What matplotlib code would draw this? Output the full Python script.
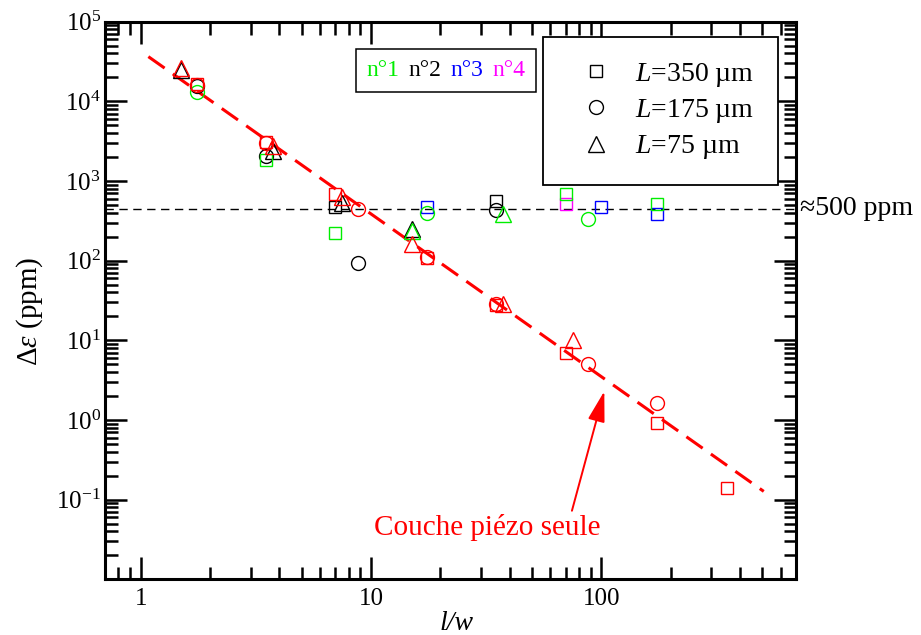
import numpy as np
import matplotlib.pyplot as plt
from matplotlib.lines import Line2D
from matplotlib.ticker import LogLocator, FuncFormatter, NullFormatter

plt.rcParams['font.family'] = ['Liberation Serif', 'DejaVu Serif']
plt.rcParams['mathtext.fontset'] = 'custom'
plt.rcParams['mathtext.rm'] = 'Liberation Serif'
plt.rcParams['mathtext.it'] = 'Liberation Serif:italic'

# echantillon n°2 (noir)
n2_sq_x = [7, 35]
n2_sq_y = [467, 562]
n2_ci_x = [1.75, 3.5, 8.75, 35]
n2_ci_y = [15500, 2050, 92.5, 430]
n2_tr_x = [1.5, 3.75, 7.5, 15]
n2_tr_y = [24500, 2370, 535, 249]

# echantillon n°1 (vert)
n1_sq_x = [3.5, 7, 70, 175]
n1_sq_y = [1860, 222, 681, 511]
n1_ci_x = [1.75, 17.5, 87.5]
n1_ci_y = [13300, 395, 331]
n1_tr_x = [15, 37.5]
n1_tr_y = [237, 383]

# echantillon n°3 (bleu)
n3_sq_x = [17.5, 100, 175]
n3_sq_y = [477, 477, 390]

# echantillon n°4 (magenta)
n4_sq_x = [70]
n4_sq_y = [520]

# couche piezo seule (rouge)
pz_sq_x = [1.75, 3.5, 7, 17.5, 35, 70, 175, 350]
pz_sq_y = [16400, 3100, 695, 108, 28.2, 6.94, 0.91, 0.14]
pz_ci_x = [1.75, 3.5, 8.75, 17.5, 35, 87.5, 175]
pz_ci_y = [16000, 3010, 443, 112, 28.7, 5.1, 1.65]
pz_tr_x = [1.5, 3.75, 7.5, 15, 37.5, 75]
pz_tr_y = [26000, 2740, 633, 162, 28.7, 10.0]

# droite de tendance (extremites)
fit_x = [1.08, 507]
fit_y = [36500, 0.127]
plateau = 450

sample_labels = ['n°1', 'n°2', 'n°3', 'n°4']
sample_colors = ['#00ee00', 'black', '#0000ff', '#ff00ff']
length_labels = ['$L$=350 µm', '$L$=175 µm', '$L$=75 µm']

GREEN, BLACK, BLUE, MAGENTA, RED = '#00ee00', 'black', '#0000ff', '#ff00ff', '#ff0000'
msize = {'s': 8.8, 'o': 10, '^': 11.5}

series = [
    (n2_sq_x, n2_sq_y, BLACK, 's'), (n2_ci_x, n2_ci_y, BLACK, 'o'), (n2_tr_x, n2_tr_y, BLACK, '^'),
    (n3_sq_x, n3_sq_y, BLUE, 's'), (n4_sq_x, n4_sq_y, MAGENTA, 's'),
    (n1_sq_x, n1_sq_y, GREEN, 's'), (n1_ci_x, n1_ci_y, GREEN, 'o'), (n1_tr_x, n1_tr_y, GREEN, '^'),
    (pz_sq_x, pz_sq_y, RED, 's'), (pz_ci_x, pz_ci_y, RED, 'o'), (pz_tr_x, pz_tr_y, RED, '^'),
]


def ylab(v, pos):
    e = int(round(np.log10(v)))
    if e < -1:
        return ''
    return r'$\mathdefault{10^{%d}}$' % e


fig = plt.figure(figsize=(9.21, 6.35), dpi=100)
ax = fig.add_axes([0.114, 0.0877, 0.7503, 0.878])

ax.plot(fit_x, fit_y, color=RED, lw=2.2, dashes=(6.5, 3.3), zorder=2)
ax.axhline(plateau, color='black', lw=1.0, dashes=(6, 4), zorder=1)

for xs, ys, col, m in series:
    ax.plot(xs, ys, ls='none', marker=m, ms=msize[m], mfc='none', mec=col, mew=1.0, zorder=3)

ax.set_xscale('log')
ax.set_yscale('log')
ax.set_xlim(0.7, 700)
ax.set_ylim(1e-2, 1e5)

ax.xaxis.set_major_locator(LogLocator(base=10, numticks=20))
ax.xaxis.set_minor_locator(LogLocator(base=10, subs=np.arange(2, 10), numticks=50))
ax.xaxis.set_major_formatter(FuncFormatter(lambda v, p: f'{v:g}'))
ax.xaxis.set_minor_formatter(NullFormatter())
ax.yaxis.set_major_locator(LogLocator(base=10, numticks=20))
ax.yaxis.set_minor_locator(LogLocator(base=10, subs=np.arange(2, 10), numticks=50))
ax.yaxis.set_major_formatter(FuncFormatter(ylab))
ax.yaxis.set_minor_formatter(NullFormatter())

for s in ax.spines.values():
    s.set_linewidth(2.2)
ax.tick_params(which='both', direction='in', top=True, right=True, width=1.8, labelsize=18)
ax.tick_params(which='major', length=16)
ax.tick_params(which='minor', length=9)
ax.tick_params(axis='x', pad=6)
ax.tick_params(axis='y', pad=3)

ax.set_xlabel('l/w', fontsize=20, style='italic')
ax.xaxis.set_label_coords(0.509, -0.056)
ax.set_ylabel(r'$\mathrm{\Delta}\varepsilon$ (ppm)', fontsize=21)
ax.yaxis.set_label_coords(-0.087, 0.48)

ax.text(1.006, plateau, '≈500 ppm', transform=ax.get_yaxis_transform(),
        fontsize=20, va='center', ha='left')

ax.annotate('Couche piézo seule', xy=(103, 2.3), xytext=(32, 0.0365),
            ha='center', va='baseline', color=RED, fontsize=21,
            arrowprops=dict(arrowstyle='-|>,head_length=0.9,head_width=0.25',
                            color=RED, lw=1.4, shrinkA=0, shrinkB=0, relpos=(0.87, 1.0)))

# legende des echantillons (texte colore)
h1 = [Line2D([], [], ls='none') for _ in sample_labels]
leg1 = ax.legend(h1, sample_labels, ncol=4, loc='upper left', bbox_to_anchor=(0.3632, 0.951),
                 borderaxespad=0, fontsize=17, handlelength=0, handletextpad=0,
                 columnspacing=0.38, borderpad=0.45, labelcolor=sample_colors,
                 fancybox=False, edgecolor='black', framealpha=1)
leg1.get_frame().set_linewidth(1.1)
ax.add_artist(leg1)

# legende des longueurs
h2 = [Line2D([], [], ls='none', marker=m, ms=msize[m], mfc='none', mec='black', mew=1.0)
      for m in ['s', 'o', '^']]
leg2 = ax.legend(h2, length_labels, loc='upper left', bbox_to_anchor=(0.634, 0.9726),
                 borderaxespad=0, fontsize=20, handlelength=2.1, handletextpad=0.35,
                 labelspacing=0.3, borderpad=0.85, fancybox=False, edgecolor='black',
                 framealpha=1)
leg2.get_frame().set_linewidth(1.3)

fig.savefig('out.png', dpi=100)
